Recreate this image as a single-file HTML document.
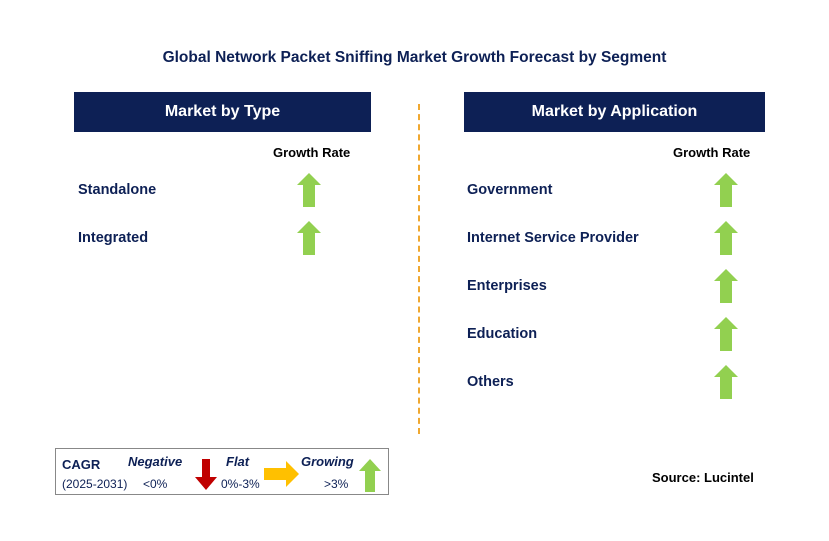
<!DOCTYPE html>
<html><head><meta charset="utf-8"><style>
body{margin:0;width:829px;height:541px;background:#fff;position:relative;font-family:"Liberation Sans",Arial,sans-serif;overflow:hidden}
.a{position:absolute}
.t{font-weight:bold;color:#0d2055;font-size:14.5px}
.hdr{position:absolute;background:#0d2055;color:#fff;font-weight:bold;font-size:16px;text-align:center;line-height:40px;height:40px}
.gr{font-weight:bold;font-size:13px;color:#000}
</style></head><body>
<div class="a t" style="left:0;width:829px;top:49px;text-align:center;font-size:15.5px">Global Network Packet Sniffing Market Growth Forecast by Segment</div>
<div class="hdr" style="left:74px;top:92px;width:297px">Market by Type</div>
<div class="hdr" style="left:464px;top:92px;width:301px">Market by Application</div>
<div class="a" style="left:418px;top:104px;height:330px;border-left:2px dashed #f0a830"></div>
<div class="a gr" style="left:273px;top:145px">Growth Rate</div>
<div class="a gr" style="left:673px;top:145px">Growth Rate</div>
<div id="rows"></div>
<div class="a" style="left:55px;top:448px;width:334px;height:47px;border:1px solid #888;box-sizing:border-box">
<div class="a t" style="left:6px;top:8px;font-size:13px">CAGR</div>
<div class="a" style="left:6px;top:28px;font-size:12px;color:#0d2055">(2025-2031)</div>
<div class="a t" style="left:72px;top:5px;font-size:13px;font-style:italic">Negative</div>
<div class="a" style="left:87px;top:28px;font-size:12px;color:#0d2055">&lt;0%</div>
<svg class="a" style="left:138px;top:10px" width="24" height="32"><polygon points="8,0 16,0 16,18 23,18 12,31 1,18 8,18" fill="#c00000"/></svg>
<div class="a t" style="left:170px;top:5px;font-size:13px;font-style:italic">Flat</div>
<div class="a" style="left:165px;top:28px;font-size:12px;color:#0d2055">0%-3%</div>
<svg class="a" style="left:208px;top:12px" width="36" height="26"><polygon points="0,7 22,7 22,0 35,13 22,26 22,19 0,19" fill="#ffc000"/></svg>
<div class="a t" style="left:245px;top:5px;font-size:13px;font-style:italic">Growing</div>
<div class="a" style="left:268px;top:28px;font-size:12px;color:#0d2055">&gt;3%</div>
<svg class="a" style="left:302px;top:10px" width="24" height="33"><polygon points="12,0 23,12 17,12 17,33 7,33 7,12 1,12" fill="#92d050"/></svg>
</div>
<div class="a" style="left:652px;top:470px;font-weight:bold;font-size:13px;color:#000">Source: Lucintel</div>
<script>
const typeSegments=["Standalone","Integrated"];
const appSegments=["Government","Internet Service Provider","Enterprises","Education","Others"];
const rows=document.getElementById('rows');
function add(list,lx,ax,name){
  list.forEach((s,i)=>{
    const y=190+i*48;
    const d=document.createElement('div');
    d.className='a t';d.style.left=lx+'px';d.style.top=(y-8)+'px';d.textContent=s;
    
    
    rows.appendChild(d);
    const n='http://www.w3.org/2000/svg';
    const sv=document.createElementNS(n,'svg');
    sv.setAttribute('class','a');sv.setAttribute('width','26');sv.setAttribute('height','34');
    sv.style.left=(ax-13)+'px';sv.style.top=(y-17)+'px';
    
    
    const p=document.createElementNS(n,'polygon');
    p.setAttribute('points','13,0 25,12 19,12 19,34 7,34 7,12 1,12');p.setAttribute('fill','#92d050');
    sv.appendChild(p);rows.appendChild(sv);
  });
}
add(typeSegments,78,309,'type-segment');
add(appSegments,467,726,'application-segment');
</script>
</body></html>
